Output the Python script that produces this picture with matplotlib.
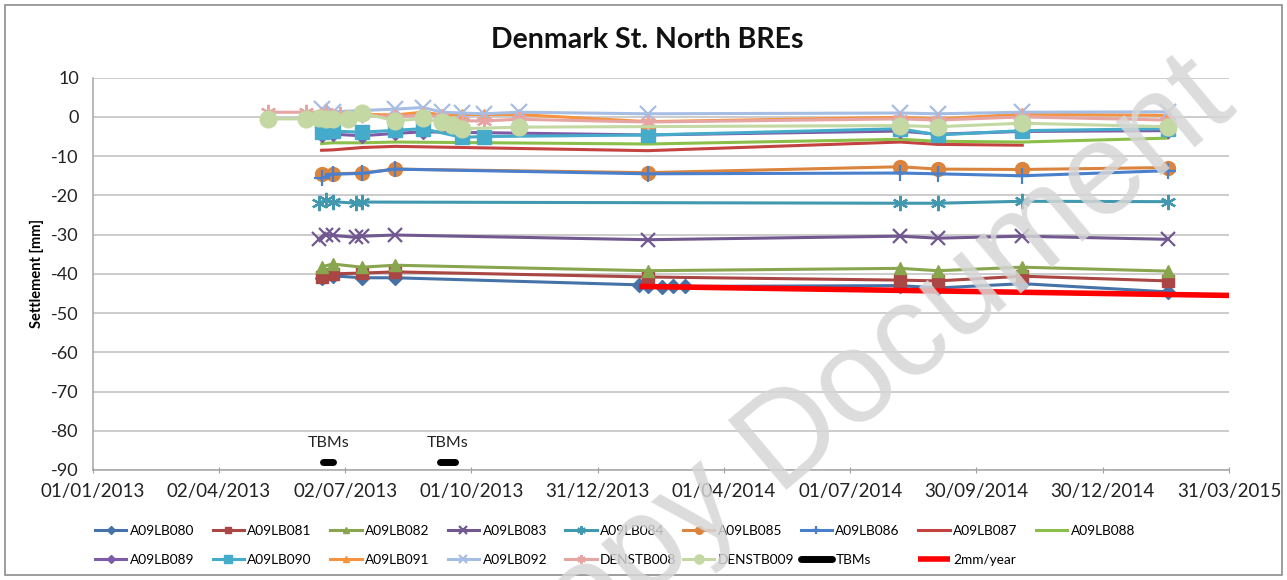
import matplotlib
matplotlib.use("Agg")
import matplotlib.pyplot as plt
import matplotlib.dates as mdates
from matplotlib.patches import Rectangle
import numpy as np
import datetime as dt

plt.rcParams['font.family'] = ['Lato', 'DejaVu Sans']

# ---------------- data ----------------
A09LB080_dates = ['2013-06-15', '2013-06-23', '2013-07-14', '2013-08-07', '2014-01-30', '2014-02-05',
                  '2014-02-15', '2014-02-23', '2014-03-04', '2014-08-06', '2014-09-02', '2014-11-02', '2015-02-15']
A09LB080_vals = [-41.0, -40.5, -41.0, -41.0, -42.8, -43.0, -43.4, -43.2, -43.2, -43.0, -43.6, -42.5, -44.6]

A09LB081_dates = ['2013-06-15', '2013-06-23', '2013-07-14', '2013-08-07', '2014-02-05', '2014-08-06',
                  '2014-09-02', '2014-11-02', '2015-02-15']
A09LB081_vals = [-40.8, -40.0, -39.8, -39.5, -40.8, -41.6, -41.8, -40.6, -41.8]

A09LB082_dates = ['2013-06-15', '2013-06-23', '2013-07-14', '2013-08-07', '2014-02-05', '2014-08-06',
                  '2014-09-02', '2014-11-02', '2015-02-15']
A09LB082_vals = [-38.2, -37.5, -38.3, -37.8, -39.2, -38.6, -39.2, -38.3, -39.3]

A09LB083_dates = ['2013-06-13', '2013-06-18', '2013-06-23', '2013-07-10', '2013-07-14', '2013-08-07',
                  '2014-02-05', '2014-08-06', '2014-09-02', '2014-11-02', '2015-02-15']
A09LB083_vals = [-31.0, -30.0, -30.2, -30.7, -30.4, -30.1, -31.3, -30.4, -30.9, -30.4, -31.2]

A09LB084_dates = ['2013-06-13', '2013-06-18', '2013-06-23', '2013-07-10', '2013-07-14', '2014-08-06',
                  '2014-09-02', '2014-11-02', '2015-02-15']
A09LB084_vals = [-22.0, -21.3, -21.6, -22.0, -21.7, -22.0, -22.0, -21.5, -21.6]

A09LB085_dates = ['2013-06-15', '2013-06-23', '2013-07-14', '2013-08-07', '2014-02-05', '2014-08-06',
                  '2014-09-02', '2014-11-02', '2015-02-15']
A09LB085_vals = [-14.6, -14.5, -14.3, -13.3, -14.2, -12.7, -13.3, -13.4, -12.9]

A09LB086_dates = ['2013-06-15', '2013-06-23', '2013-07-14', '2013-08-07', '2014-02-05', '2014-08-06',
                  '2014-09-02', '2014-11-02', '2015-02-15']
A09LB086_vals = [-15.6, -14.6, -14.4, -13.3, -14.5, -14.3, -14.5, -15.0, -13.7]

A09LB087_dates = ['2013-06-15', '2013-06-23', '2013-07-14', '2013-08-07', '2014-02-05', '2014-08-06',
                  '2014-09-02', '2014-11-02']
A09LB087_vals = [-8.5, -8.4, -7.8, -7.5, -8.6, -6.4, -7.0, -7.2]

A09LB088_dates = ['2013-06-15', '2013-06-23', '2013-07-14', '2013-08-07', '2014-02-05', '2014-08-06',
                  '2014-09-02', '2014-11-02', '2015-02-15']
A09LB088_vals = [-6.8, -6.6, -6.6, -6.4, -6.9, -5.7, -6.2, -6.4, -5.4]

A09LB089_dates = ['2013-06-15', '2013-06-23', '2013-07-14', '2013-08-07', '2013-08-27', '2014-02-05',
                  '2014-08-06', '2014-09-02', '2014-11-02', '2015-02-15']
A09LB089_vals = [-4.5, -4.4, -4.8, -4.2, -3.8, -4.6, -3.6, -4.4, -3.7, -3.5]

A09LB090_dates = ['2013-06-15', '2013-06-18', '2013-06-23', '2013-07-14', '2013-08-07', '2013-08-27',
                  '2013-09-24', '2013-10-10', '2014-02-05', '2014-08-06', '2014-09-02', '2014-11-02', '2015-02-15']
A09LB090_vals = [-3.8, -3.5, -3.6, -3.9, -3.4, -3.0, -5.2, -5.0, -4.6, -3.0, -4.6, -3.5, -3.0]

A09LB091_dates = ['2013-06-18', '2013-06-28', '2013-08-07', '2013-08-27', '2013-09-10', '2013-09-24',
                  '2013-10-10', '2013-11-04', '2014-02-05', '2014-08-06', '2014-09-02', '2014-11-02', '2015-02-15']
A09LB091_vals = [1.3, 0.8, 0.5, 1.2, 0.5, 0.6, 0.6, 0.6, -1.2, -0.1, -0.5, 0.7, 0.4]

A09LB092_dates = ['2013-06-15', '2013-06-23', '2013-08-07', '2013-08-27', '2013-09-10', '2013-09-24',
                  '2013-10-10', '2013-11-04', '2014-02-05', '2014-08-06', '2014-09-02', '2014-11-02', '2015-02-15']
A09LB092_vals = [2.0, 1.3, 2.0, 2.4, 1.2, 1.0, 0.8, 1.2, 0.8, 1.0, 0.8, 1.2, 1.3]

DENSTB008_dates = ['2013-05-07', '2013-06-04', '2013-06-18', '2013-06-28', '2013-07-14', '2013-08-07',
                   '2013-08-27', '2013-09-10', '2013-09-24', '2013-10-10', '2013-11-04', '2014-02-05',
                   '2014-08-06', '2014-09-02', '2014-11-02', '2015-02-15']
DENSTB008_vals = [1.2, 1.2, 1.2, 0.8, 0.4, 0.0, 0.5, 0.0, -1.0, -1.0, -0.6, -1.3, -0.5, -0.8, 0.0, -0.8]

DENSTB009_dates = ['2013-05-07', '2013-06-04', '2013-06-13', '2013-06-18', '2013-06-23', '2013-07-04',
                   '2013-07-14', '2013-08-07', '2013-08-27', '2013-09-10', '2013-09-17', '2013-09-24',
                   '2013-11-04', '2014-08-06', '2014-09-02', '2014-11-02', '2015-02-15']
DENSTB009_vals = [-0.5, -0.5, -0.3, -0.5, -0.5, -0.6, 1.0, -1.0, -0.4, -1.4, -2.0, -3.0, -2.6,
                  -2.2, -2.5, -1.6, -2.5]

TBMs_dates = ['2013-06-16', '2013-06-23', None, '2013-09-08', '2013-09-19']
TBMs_vals = [-88, -88, np.nan, -88, -88]
TBMs_label_dates = ['2013-06-20', '2013-09-14']
TBMs_label_vals = [-83, -83]

rate_dates = ['2014-01-30', '2015-03-31']
rate_vals = [-43.2, -45.5]

x_tick_labels = ['01/01/2013', '02/04/2013', '02/07/2013', '01/10/2013', '31/12/2013',
                 '01/04/2014', '01/07/2014', '30/09/2014', '30/12/2014', '31/03/2015']
y_ticks = [10, 0, -10, -20, -30, -40, -50, -60, -70, -80, -90]

# ---------------- styles ----------------
series = [
    ('A09LB080', A09LB080_dates, A09LB080_vals, '#4572A7', 'D', 7, 1.0),
    ('A09LB081', A09LB081_dates, A09LB081_vals, '#AA4643', 's', 8, 1.0),
    ('A09LB082', A09LB082_dates, A09LB082_vals, '#89A54E', '^', 9, 1.0),
    ('A09LB083', A09LB083_dates, A09LB083_vals, '#71588F', 'x', 10, 1.6),
    ('A09LB084', A09LB084_dates, A09LB084_vals, '#4198AF', (6, 2, 0), 11, 1.6),
    ('A09LB085', A09LB085_dates, A09LB085_vals, '#DB843D', 'o', 10, 1.0),
    ('A09LB086', A09LB086_dates, A09LB086_vals, '#4A7FCC', '+', 11, 1.6),
    ('A09LB087', A09LB087_dates, A09LB087_vals, '#C4423F', None, 0, 1.0),
    ('A09LB088', A09LB088_dates, A09LB088_vals, '#8CBF4A', None, 0, 1.0),
    ('A09LB089', A09LB089_dates, A09LB089_vals, '#7E5BA6', 'D', 7, 1.0),
    ('A09LB090', A09LB090_dates, A09LB090_vals, '#44ABCB', 's', 10, 1.0),
    ('A09LB091', A09LB091_dates, A09LB091_vals, '#F7923E', '^', 8, 1.0),
    ('A09LB092', A09LB092_dates, A09LB092_vals, '#A6BDE4', 'x', 11, 1.6),
    ('DENSTB008', DENSTB008_dates, DENSTB008_vals, '#E6A5A2', (6, 2, 0), 11, 1.6),
    ('DENSTB009', DENSTB009_dates, DENSTB009_vals, '#C3D8A3', 'o', 12, 1.0),
]


def to_num(ds):
    out = []
    for d in ds:
        if d is None:
            out.append(np.nan)
        else:
            out.append(mdates.date2num(dt.datetime.strptime(d, '%Y-%m-%d')))
    return np.array(out)


W, H = 1287, 580
fig = plt.figure(figsize=(W / 100, H / 100), dpi=100)
ax = fig.add_axes([92.7 / W, 1 - 470 / H, (1229 - 92.7) / W, (470 - 77.7) / H])

handles = []
for i, (name, ds, vs, col, mk, ms, mew) in enumerate(series):
    x = to_num(ds)
    ln, = ax.plot(x, vs, color=col, lw=2.2, marker=mk, markersize=ms,
                  markeredgewidth=mew, markerfacecolor=col, markeredgecolor=col,
                  zorder=3 + i * 0.05, solid_joinstyle='round', label=name)
    handles.append(ln)

tb, = ax.plot(to_num(TBMs_dates), TBMs_vals, color='black', lw=5, solid_capstyle='round',
              zorder=4, label='TBMs')
rl, = ax.plot(to_num(rate_dates), rate_vals, color='#FF0000', lw=4, zorder=5,
              solid_capstyle='butt', label='2mm/year')
handles += [tb, rl]

for d, v in zip(to_num(TBMs_label_dates), TBMs_label_vals):
    ax.text(d, v, 'TBMs', ha='center', va='center', fontsize=11.5, color='#222222')

x0 = mdates.date2num(dt.datetime(2013, 1, 1))
xt = [x0 + 91 * k for k in range(len(x_tick_labels))]
ax.set_xlim(xt[0], xt[-1])
ax.set_xticks(xt)
ax.set_xticklabels(x_tick_labels)
ax.set_ylim(-90, 10)
ax.set_yticks(y_ticks)
ax.set_yticklabels([str(t) for t in y_ticks])
ax.tick_params(axis='x', direction='inout', length=5, color='#A0A0A0', labelsize=13.5, pad=7,
               labelcolor='#222222')
ax.tick_params(axis='y', length=0, labelsize=13, pad=10, labelcolor='#222222')
ax.grid(axis='y', color='#BFBFBF', lw=1.1, zorder=0)
ax.set_axisbelow(True)
for s in ['top', 'right']:
    ax.spines[s].set_visible(False)
for s in ['left', 'bottom']:
    ax.spines[s].set_color('#A6A6A6')
    ax.spines[s].set_linewidth(1.1)

ax.set_ylabel('Settlement [mm]', fontsize=10.5, fontweight='bold', labelpad=5)
fig.text(647 / W, 1 - 40 / H, 'Denmark St. North BREs', ha='center', va='center',
         fontsize=20.5, fontweight='bold', color='#111111')

# legend: fixed grid like the Excel legend
leg_kw = dict(frameon=False, fontsize=9.8, handlelength=2.3, handletextpad=0.25,
              borderaxespad=0, borderpad=0, markerscale=0.55)
rows = [handles[:9], handles[9:]]
row_y = [531, 560]
for r, hs in enumerate(rows):
    for k, h in enumerate(hs):
        fig.legend(handles=[h], labels=[h.get_label()], loc='center left',
                   bbox_to_anchor=((95 + 117.6 * k) / W, 1 - row_y[r] / H), **leg_kw)

# outer frame
fig.patches.append(Rectangle((5 / W, 5 / H), 1 - 10 / W, 1 - 10 / H, transform=fig.transFigure,
                             fill=False, edgecolor='#8C8C8C', lw=1.2))

# watermark
for txt, ha in [('Document', 'left'), ('Copy ', 'right')]:
    fig.text(775 / W, 1 - 490 / H, txt, rotation=40, rotation_mode='anchor', ha=ha,
             va='baseline', fontsize=95, color='#D6D6D6', alpha=0.85, family='Liberation Sans',
             zorder=20)

fig.savefig('out.png', dpi=100)
